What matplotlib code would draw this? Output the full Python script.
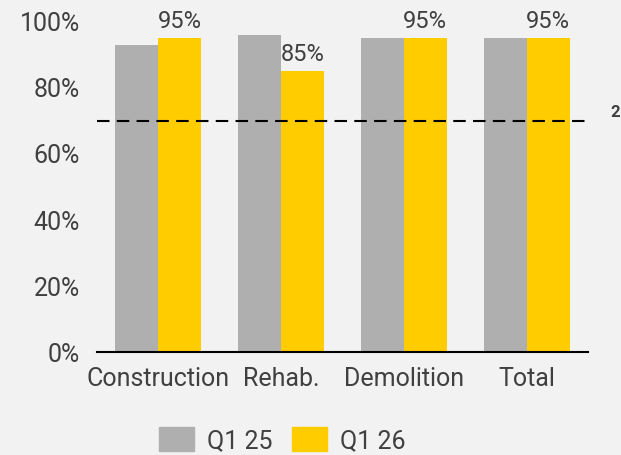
import matplotlib.pyplot as plt
from matplotlib.patches import Patch

categories = ['Construction', 'Rehab.', 'Demolition', 'Total']
q1_25 = [93, 96, 95, 95]
q1_26 = [95, 85, 95, 95]
labels_26 = ['95%', '85%', '95%', '95%']
target = 70

grey = '#afafaf'
yellow = '#ffcc00'
txt = '#404040'
bg = '#f2f2f2'

plt.rcParams['font.family'] = ['Roboto', 'DejaVu Sans']

fig = plt.figure(figsize=(6.21, 4.55), dpi=100, facecolor=bg)
ax = fig.add_axes([0.156, 0.226, 0.791, 0.726])
ax.set_facecolor(bg)

x = range(len(categories))
w = 0.35
ax.bar([i - w / 2 for i in x], q1_25, width=w, color=grey)
bars = ax.bar([i + w / 2 for i in x], q1_26, width=w, color=yellow)
for b, lab in zip(bars, labels_26):
    ax.text(b.get_x() + b.get_width() / 2, b.get_height() + 1.5, lab,
            ha='center', va='bottom', fontsize=17, color=txt)

ax.axhline(target, xmin=0, xmax=1.005, color='black', linestyle=(0, (6, 3.5)),
           linewidth=1.5, clip_on=False)
ax.text(1.055, target + 2.5, '2', transform=ax.get_yaxis_transform(),
        fontsize=12, fontweight='bold', color=txt, ha='center', va='center')

ax.set_xlim(-0.5, 3.5)
ax.set_ylim(0, 100)
ax.set_yticks([0, 20, 40, 60, 80, 100])
ax.set_yticklabels([f'{v}%' for v in [0, 20, 40, 60, 80, 100]])
ax.set_xticks(list(x))
ax.set_xticklabels(categories)
ax.tick_params(axis='both', length=0, labelsize=18, labelcolor=txt)
ax.tick_params(axis='x', pad=11)
ax.tick_params(axis='y', pad=12)
for s in ['top', 'right', 'left']:
    ax.spines[s].set_visible(False)
ax.spines['bottom'].set_linewidth(1.5)
ax.spines['bottom'].set_color('black')

handles = [Patch(color=grey, label='Q1 25'), Patch(color=yellow, label='Q1 26')]
fig.legend(handles=handles, loc='lower center', bbox_to_anchor=(0.455, -0.045), ncol=2,
           frameon=False, fontsize=18, labelcolor=txt, handlelength=1.4,
           handleheight=1.1, columnspacing=0.8, handletextpad=0.5)

fig.savefig('out.png', dpi=100, facecolor=bg)
